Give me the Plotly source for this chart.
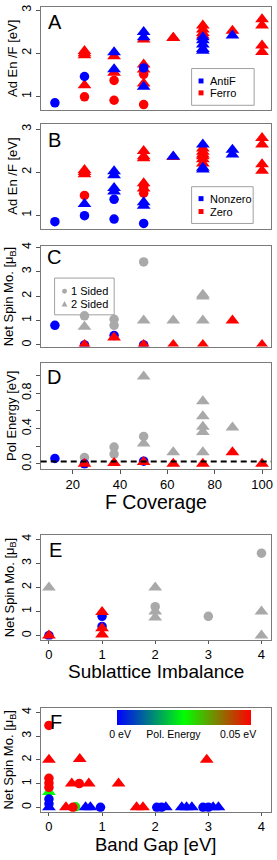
import plotly.graph_objects as go

W, H = 277, 860

# ---------------- Data ----------------
# Panels A & B : adsorption energy per F atom vs F coverage (%)
AB_COVERAGE = [12.5, 25, 25, 25, 25, 25, 25, 37.5, 37.5, 37.5, 37.5, 37.5, 37.5,
               50, 50, 50, 50, 50, 50, 50, 50, 50, 50, 62.5, 62.5,
               75, 75, 75, 75, 75, 75, 75, 75, 75, 87.5, 87.5, 100, 100, 100, 100]
AB_ADEN = [0.85, 2.05, 2.00, 1.95, 1.46, 1.26, 0.99, 1.93, 2.02, 1.55, 1.63, 1.37, 0.91,
           2.49, 2.37, 2.32, 1.74, 1.62, 1.66, 1.51, 1.30, 1.22, 0.81, 2.35, 2.36,
           2.64, 2.55, 2.47, 2.41, 2.37, 2.30, 2.20, 2.10, 2.06, 2.52, 2.41, 2.79, 2.64, 2.18, 2.03]
AB_SIDES = ["1", "2", "2", "2", "1", "2", "1", "2", "2", "2", "2", "1", "1",
            "2", "2", "2", "2", "2", "1", "1", "2", "2", "1", "2", "2",
            "2", "2", "2", "2", "2", "2", "2", "2", "2", "2", "2", "2", "2", "2", "2"]
A_ORDER = ["AntiF", "Ferro", "Ferro", "Ferro", "AntiF", "Ferro", "Ferro", "Ferro", "AntiF", "Ferro", "AntiF", "Ferro", "Ferro",
           "AntiF", "AntiF", "Ferro", "Ferro", "Ferro", "AntiF", "Ferro", "Ferro", "AntiF", "Ferro", "Ferro", "Ferro",
           "Ferro", "Ferro", "Ferro", "Ferro", "AntiF", "AntiF", "AntiF", "AntiF", "AntiF", "Ferro", "AntiF",
           "Ferro", "Ferro", "Ferro", "Ferro"]
B_SPIN = ["Nonzero", "Zero", "Zero", "Zero", "Zero", "Nonzero", "Nonzero", "Nonzero", "Nonzero", "Nonzero", "Nonzero", "Nonzero", "Nonzero",
          "Zero", "Zero", "Zero", "Zero", "Zero", "Zero", "Zero", "Nonzero", "Nonzero", "Nonzero", "Zero", "Nonzero",
          "Nonzero", "Zero", "Zero", "Zero", "Zero", "Zero", "Zero", "Nonzero", "Nonzero", "Nonzero", "Nonzero",
          "Zero", "Zero", "Zero", "Zero"]

# Panel C : net spin moment vs F coverage
C_COVERAGE = [12.5, 25, 25, 25, 25, 37.5, 37.5, 37.5, 37.5, 50, 50, 50, 50,
              62.5, 62.5, 75, 75, 75, 75, 87.5, 100]
C_SPIN = [0.80, 1.19, 0.74, 0.00, 0.00, 1.05, 0.80, 0.38, 0.30, 3.40, 1.00, 0.00, 0.00,
          1.00, 0.00, 2.05, 1.98, 1.00, 0.00, 1.00, 0.00]
C_SIDES = ["1", "1", "2", "1", "2", "1", "1", "1", "2", "1", "2", "1", "2",
           "2", "2", "2", "2", "2", "2", "2", "2"]
C_GROUP = ["blue", "grey", "grey", "blue", "red", "grey", "grey", "blue", "red", "grey", "grey", "blue", "red",
           "grey", "red", "grey", "grey", "grey", "red", "red", "red"]

# Panel D : polarization energy vs F coverage
D_COVERAGE = [12.5, 25, 25, 25, 37.5, 37.5, 37.5, 50, 50, 50, 50, 50,
              62.5, 62.5, 75, 75, 75, 75, 75, 75, 87.5, 87.5, 100]
D_POL = [0.06, 0.07, 0.00, 0.00, 0.19, 0.11, 0.01, 0.99, 0.31, 0.23, 0.03, 0.02,
         0.13, 0.00, 0.71, 0.54, 0.42, 0.36, 0.13, 0.00, 0.41, 0.13, 0.00]
D_SIDES = ["1", "1", "1", "2", "1", "1", "2", "2", "1", "2", "1", "2",
           "2", "2", "2", "2", "2", "2", "2", "2", "2", "2", "2"]
D_GROUP = ["blue", "grey", "blue", "red", "grey", "grey", "red", "grey", "grey", "grey", "blue", "red",
           "grey", "red", "grey", "grey", "grey", "grey", "grey", "red", "grey", "red", "red"]
D_THRESHOLD = 0.025

# Panel E : net spin moment vs sublattice imbalance
E_IMBALANCE = [0, 0, 0, 1, 1, 1, 1, 1, 2, 2, 2, 2, 3, 4, 4, 4]
E_SPIN = [2.00, 0.00, 0.00, 0.98, 0.80, 0.38, 0.30, 0.04, 2.00, 1.20, 1.00, 0.75, 0.80, 3.42, 1.00, 0.00]
E_SIDES = ["2", "1", "2", "2", "1", "1", "2", "2", "2", "1", "2", "2", "1", "1", "2", "2"]
E_GROUP = ["grey", "blue", "red", "red", "blue", "blue", "red", "red", "grey", "grey", "grey", "grey",
           "grey", "grey", "grey", "grey"]

# Panel F : net spin moment vs band gap, coloured by polarization energy
F_GAP = [0.00, 0.50, 0.00, 0.00, 0.00, 0.69, 0.78, 0.97, 2.03, 2.12, 2.20, 2.50, 2.59, 2.69,
         2.90, 3.00, 3.09, 3.19, 0.32, 0.45, 1.65, 1.77, 0.43, 0.57, 0.75, 1.31,
         0.00, 0.00, 0.00, 0.00, 0.58, 2.97, 0.00]
F_SPIN = [0.65, 0.02, 0.35, 0.15, 0.00, 0.00, 0.00, 0.00, 0.00, 0.00, 0.00, 0.00, 0.00, 0.00,
          0.00, 0.00, 0.00, 0.00, 0.00, 0.00, 0.00, 0.00, 1.00, 1.00, 1.00, 1.00,
          1.22, 1.02, 0.84, 2.00, 2.03, 2.00, 3.45]
F_SIDES = ["2", "1", "1", "1", "2", "2", "2", "1", "1", "1", "2", "2", "2", "2",
           "1", "1", "2", "2", "2", "1", "2", "2", "2", "1", "2", "2",
           "1", "1", "1", "2", "2", "2", "1"]
F_POL = [0.025, 0.028, 0.0, 0.0, 0.0, 0.0, 0.0, 0.0, 0.0, 0.0, 0.0, 0.0, 0.0, 0.0,
         0.0, 0.0, 0.0, 0.0, 0.13, 0.06, 0.36, 0.54, 0.13, 0.31, 0.42, 0.40,
         0.19, 0.07, 0.11, 0.99, 0.70, 0.71, 0.30]
F_POL_RANGE = [0.0, 0.05]

# ---------------- Styling ----------------
FONT = "Liberation Sans, Arial, sans-serif"
COLORS = {"AntiF": "#0000FF", "Ferro": "#FF0000", "Nonzero": "#0000FF", "Zero": "#FF0000",
          "blue": "#0000FF", "red": "#FF0000", "grey": "#A9A9A9"}
SYMBOL = {"1": "circle", "2": "triangle-up"}
MSIZE = {"1": 9.5, "2": 12}
FRAME = "#7a7a7a"


def fy(p):
    return 1 - p / H


def fx(p):
    return p / W


# plot frames in pixels (top, bottom)
FRAMES = {1: (3.5, 107), 2: (120.7, 226.5), 3: (244, 345), 4: (361.7, 468), 5: (535, 640), 6: (709, 813.3)}
XDOM = [fx(41), fx(273)]

fig = go.Figure()


def add_group(panel, xs, ys, sides, groups, order):
    ax = "" if panel == 1 else str(panel)
    for g in order:
        idx = [i for i, gg in enumerate(groups) if gg == g]
        if not idx:
            continue
        fig.add_trace(go.Scatter(
            x=[xs[i] for i in idx], y=[ys[i] for i in idx], mode="markers",
            xaxis="x" + ax, yaxis="y" + ax, showlegend=False, name=g,
            marker=dict(color=COLORS[g], symbol=[SYMBOL[sides[i]] for i in idx],
                        size=[MSIZE[sides[i]] for i in idx], opacity=1, line=dict(width=0)),
            hoverinfo="x+y"))


add_group(1, AB_COVERAGE, AB_ADEN, AB_SIDES, A_ORDER, ["Ferro", "AntiF"])
add_group(2, AB_COVERAGE, AB_ADEN, AB_SIDES, B_SPIN, ["Zero", "Nonzero"])
add_group(3, C_COVERAGE, C_SPIN, C_SIDES, C_GROUP, ["grey", "blue", "red"])
add_group(4, D_COVERAGE, D_POL, D_SIDES, D_GROUP, ["grey", "blue", "red"])
add_group(5, E_IMBALANCE, E_SPIN, E_SIDES, E_GROUP, ["grey", "blue", "red"])

fig.add_trace(go.Scatter(
    x=F_GAP, y=F_SPIN, mode="markers", xaxis="x6", yaxis="y6", showlegend=False,
    marker=dict(color=F_POL, cmin=F_POL_RANGE[0], cmax=F_POL_RANGE[1], opacity=1,
                colorscale=[[0, "#0000FF"], [0.5, "#00FF00"], [1, "#FF0000"]],
                symbol=[SYMBOL[s] for s in F_SIDES], size=[MSIZE[s] for s in F_SIDES],
                line=dict(width=0), showscale=True,
                colorbar=dict(orientation="h", x=fx(185), xanchor="center", y=fy(710.7), yanchor="top",
                              len=134, lenmode="pixels", thickness=15, thicknessmode="pixels",
                              outlinewidth=0, xpad=0, ypad=0, ticks="",
                              tickvals=[0.0013, 0.0212, 0.0453],
                              ticktext=["0 eV", "Pol. Energy", "0.05 eV"],
                              tickfont=dict(family=FONT, size=10.5, color="black"))),
    hoverinfo="x+y"))

# ---------------- Axes ----------------
XRANGES = {1: [6.5, 103.8], 2: [6.5, 103.8], 3: [6.5, 103.8], 4: [6.5, 103.8],
           5: [-0.155, 4.18], 6: [-0.155, 4.18]}
YRANGES = {1: [0.678, 3.06], 2: [0.682, 3.12], 3: [-0.07, 4.04], 4: [-0.056, 1.14],
           5: [-0.165, 4.165], 6: [-0.18, 4.18]}
YTICKS = {1: ([1, 2, 3], ["1", "2", "3"]), 2: ([1, 2, 3], ["1", "2", "3"]),
          3: ([0, 1, 2, 3, 4], ["0", "1", "2", "3", "4"]),
          4: ([0, 0.4, 0.8], ["0.0", "0.4", "0.8"]),
          5: ([0, 1, 2, 3, 4], ["0", "1", "2", "3", "4"]),
          6: ([0, 1, 2, 3, 4], ["0", "1", "2", "3", "4"])}
D_MINOR_TICKS = [0.2, 0.6, 1.0]
XTICKS = {4: [20, 40, 60, 80, 100], 5: [0, 1, 2, 3, 4], 6: [0, 1, 2, 3, 4]}

layout = dict(width=W, height=H, margin=dict(l=0, r=0, t=0, b=0),
              paper_bgcolor="white", plot_bgcolor="white", showlegend=False,
              font=dict(family=FONT, size=13, color="black"))
for p in range(1, 7):
    s = "" if p == 1 else str(p)
    top, bot = FRAMES[p]
    xa = dict(domain=XDOM, anchor="y" + s, range=XRANGES[p], showline=True, mirror=True,
              linecolor=FRAME, linewidth=1.3, showgrid=False, zeroline=False, fixedrange=True)
    if p in XTICKS:
        xa.update(tickmode="array", tickvals=XTICKS[p], ticks="outside", ticklen=4 if p == 4 else 3,
                  tickcolor="#555", tickwidth=1, ticklabeloverflow="allow",
                  tickfont=dict(family=FONT, size=13, color="black"))
    else:
        xa.update(showticklabels=False, ticks="")
    ya = dict(domain=[fy(bot), fy(top)], anchor="x" + s, range=YRANGES[p], showline=True, mirror=True,
              linecolor=FRAME, linewidth=1.3, showgrid=False, zeroline=False, fixedrange=True,
              tickmode="array", tickvals=YTICKS[p][0], ticktext=YTICKS[p][1], ticks="outside",
              ticklen=4, tickcolor="#555", tickwidth=1, tickangle=-90, ticklabeloverflow="allow",
              tickfont=dict(family=FONT, size=12.5, color="black"))
    if p == 4:
        ya["minor"] = dict(tickmode="array", tickvals=D_MINOR_TICKS, ticks="outside", ticklen=4,
                           tickcolor="#555", tickwidth=1, showgrid=False)
    layout["xaxis" + s] = xa
    layout["yaxis" + s] = ya
fig.update_layout(**layout)

# dashed threshold line in panel D
fig.add_shape(type="line", xref="x4 domain", yref="y4", x0=0, x1=1, y0=D_THRESHOLD, y1=D_THRESHOLD,
              line=dict(color="black", width=2, dash="6px,4px"))


def ann(text, xp, yp, size, **kw):
    d = dict(text=text, x=fx(xp), y=fy(yp), xref="paper", yref="paper", showarrow=False,
             font=dict(family=FONT, size=size, color="black"))
    d.update(kw)
    fig.add_annotation(**d)


# panel letters
for letter, (xp, yp) in {"A": (46, 18.5), "B": (46, 137), "C": (45, 255), "D": (45, 376),
                         "E": (47, 549.5), "F": (48, 723.5)}.items():
    ann(letter, xp, yp, 20, xanchor="left", yanchor="middle")

# y axis titles
SPIN_T = "Net Spin Mo. [μ<sub>B</sub>]"
for text, xp, yp in [("Ad En /F [eV]", 12.5, 55), ("Ad En /F [eV]", 12.5, 173.5), (SPIN_T, 10, 294.5),
                     ("Pol Energy [eV]", 11, 415), (SPIN_T, 10, 587.5), (SPIN_T, 10, 761)]:
    ann(text, xp, yp, 13, textangle=-90, xanchor="center", yanchor="middle")

# x axis titles
for text, yp, fs in [("F Coverage", 501, 19.5), ("Sublattice Imbalance", 672.5, 19), ("Band Gap [eV]", 846, 18.5)]:
    ann(text, 157, yp, fs, xanchor="center", yanchor="middle")


# manual legends
def legend_box(x0, y0, x1, y1):
    fig.add_shape(type="rect", xref="paper", yref="paper", x0=fx(x0), x1=fx(x1), y0=fy(y1), y1=fy(y0),
                  line=dict(color="#a0a0a0", width=1), fillcolor="white", layer="below")


def sq(cx, cy, color, s=5):
    fig.add_shape(type="rect", xref="paper", yref="paper", x0=fx(cx - s / 2), x1=fx(cx + s / 2),
                  y0=fy(cy + s / 2), y1=fy(cy - s / 2), line=dict(width=0), fillcolor=color)


legend_box(193, 65, 256, 102)
sq(202.5, 77.5, COLORS["AntiF"]); ann("AntiF", 210, 77.5, 11, xanchor="left", yanchor="middle")
sq(202.5, 89.5, COLORS["Ferro"]); ann("Ferro", 210, 89.5, 11, xanchor="left", yanchor="middle")

legend_box(193, 184, 255, 221)
sq(202.5, 196, COLORS["Nonzero"]); ann("Nonzero", 210, 196, 11, xanchor="left", yanchor="middle")
sq(202.5, 209, COLORS["Zero"]); ann("Zero", 210, 209, 11, xanchor="left", yanchor="middle")

legend_box(55, 276, 115, 313)
fig.add_shape(type="circle", xref="paper", yref="paper", x0=fx(62.5), x1=fx(67.5), y0=fy(291.8), y1=fy(286.8),
              line=dict(width=0), fillcolor=COLORS["grey"])
fig.add_shape(type="path", xref="paper", yref="paper",
              path="M {:.5f},{:.5f} L {:.5f},{:.5f} L {:.5f},{:.5f} Z".format(
                  fx(62), fy(304.5), fx(68), fy(304.5), fx(65), fy(299)),
              line=dict(width=0), fillcolor=COLORS["grey"])
ann("1 Sided", 70, 289.3, 11, xanchor="left", yanchor="middle")
ann("2 Sided", 70, 301.7, 11, xanchor="left", yanchor="middle")

# remove the browser's default page margin so the figure sits at the window origin
fig.write_html("out.html", config={"displayModeBar": False},
               post_script="document.body.style.margin='0';")
